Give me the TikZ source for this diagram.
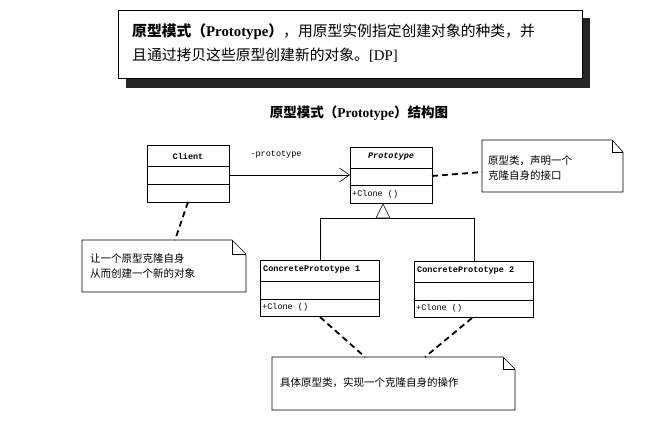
\documentclass[tikz,border=0pt]{standalone}
\usepackage{fontspec}
\usetikzlibrary{arrows.meta}
\setmainfont{Liberation Serif}
\setmonofont{Liberation Mono}
\newfontfamily\cjk{Noto Sans CJK SC}
\newcommand\cjkb{\cjk\bfseries}
\begin{document}
\begin{tikzpicture}[x=1pt,y=-1pt,
  cls/.style={draw,line width=0.8pt},
  nt/.style={draw,line width=0.6pt},
  dsh/.style={line width=1.8pt,dash pattern=on 6pt off 4pt},
  lbl/.style={font=\ttfamily\fontsize{8.5}{10}\selectfont,inner sep=0pt},
  ctx/.style={font=\cjk\fontsize{10.5}{15}\selectfont,align=left,inner sep=0pt,anchor=west}]
\useasboundingbox (0,0) rectangle (660,420);
% top box with shadow
\fill[black!85] (126,18) rectangle (590,88);
\draw[fill=white,line width=0.8pt] (118,10) rectangle (582,78);
\node[anchor=west,inner sep=0pt,font=\fontsize{14.8}{17}\selectfont] (def1) at (132,32) {{\cjkb 原型模式（}\textbf{Prototype}{\cjkb ）}{\cjk ，用原型实例指定创建对象的种类，并}};
\node[anchor=west,inner sep=0pt,font=\fontsize{14.8}{17}\selectfont] (def2) at (132,55) {{\cjk 且通过拷贝这些原型创建新的对象。}[DP]};
\node[inner sep=0pt,font=\fontsize{13.5}{15}\selectfont] (title) at (359,113) {{\cjkb 原型模式（}\textbf{Prototype}{\cjkb ）结构图}};
% Client
\draw[cls] (147,145) rectangle (229,202); \draw[cls] (147,166)--(229,166) (147,184)--(229,184);
\node[lbl,font=\ttfamily\bfseries\fontsize{8.5}{10}\selectfont] (client) at (188,156) {Client};
\coordinate (cr) at (229,175); \coordinate (cb) at (188,202);
% Prototype
\draw[cls] (350,147) rectangle (432,203); \draw[cls] (350,168)--(432,168) (350,185)--(432,185);
\node[lbl,font=\ttfamily\bfseries\itshape\fontsize{8.5}{10}\selectfont] (proto) at (391,157) {Prototype};
\node[lbl,anchor=west] (pclone) at (352,194) {+Clone ()};
\coordinate (pl) at (350,175); \coordinate (pr) at (432,176); \coordinate (pb) at (383,203);
\draw[line width=0.6pt,-{Straight Barb[length=10pt,width=14pt]}] (cr) -- (pl);
\node[lbl] (role) at (276,155) {-prototype};
% CP1, CP2
\draw[cls] (260,260) rectangle (379,316); \draw[cls] (260,281)--(379,281) (260,299)--(379,299);
\node[lbl,font=\ttfamily\bfseries\fontsize{8.5}{10}\selectfont,anchor=west] (cp1) at (263,270) {ConcretePrototype 1};
\node[lbl,anchor=west] (c1clone) at (262,307) {+Clone ()};
\draw[cls] (414,261) rectangle (533,317); \draw[cls] (414,282)--(533,282) (414,300)--(533,300);
\node[lbl,font=\ttfamily\bfseries\fontsize{8.5}{10}\selectfont,anchor=west] (cp2) at (417,271) {ConcretePrototype 2};
\node[lbl,anchor=west] (c2clone) at (416,308) {+Clone ()};
% inheritance
\draw[line width=0.6pt] (320,260) -- (320,218) -- (474,218) -- (474,261);
\draw[line width=0.6pt,fill=white] (383,204) -- (376,218) -- (390,218) -- cycle;
% notes
\draw[nt] (482,140) -- (612,140) -- (623,152) -- (623,192) -- (482,192) -- cycle;
\draw[nt] (612,140) -- (612,152) -- (623,152);
\node[ctx] (n1) at (488,168) {原型类，声明一个\\克隆自身的接口};
\draw[nt] (82,240) -- (232,240) -- (246,254) -- (246,292) -- (82,292) -- cycle;
\draw[nt] (232,240) -- (232,254) -- (246,254);
\node[ctx] (n2) at (90,266) {让一个原型克隆自身\\从而创建一个新的对象};
\draw[nt] (272,357) -- (503,357) -- (515,369) -- (515,410) -- (272,410) -- cycle;
\draw[nt] (503,357) -- (503,369) -- (515,369);
\node[ctx] (n3) at (280,383) {具体原型类，实现一个克隆自身的操作};
% dashed links
\draw[dsh] (pr) -- (482,172);
\draw[dsh] (cb) -- (175,240);
\draw[dsh] (320,317) -- (365,357);
\draw[dsh] (472,318) -- (425,357);
\end{tikzpicture}
\end{document}
